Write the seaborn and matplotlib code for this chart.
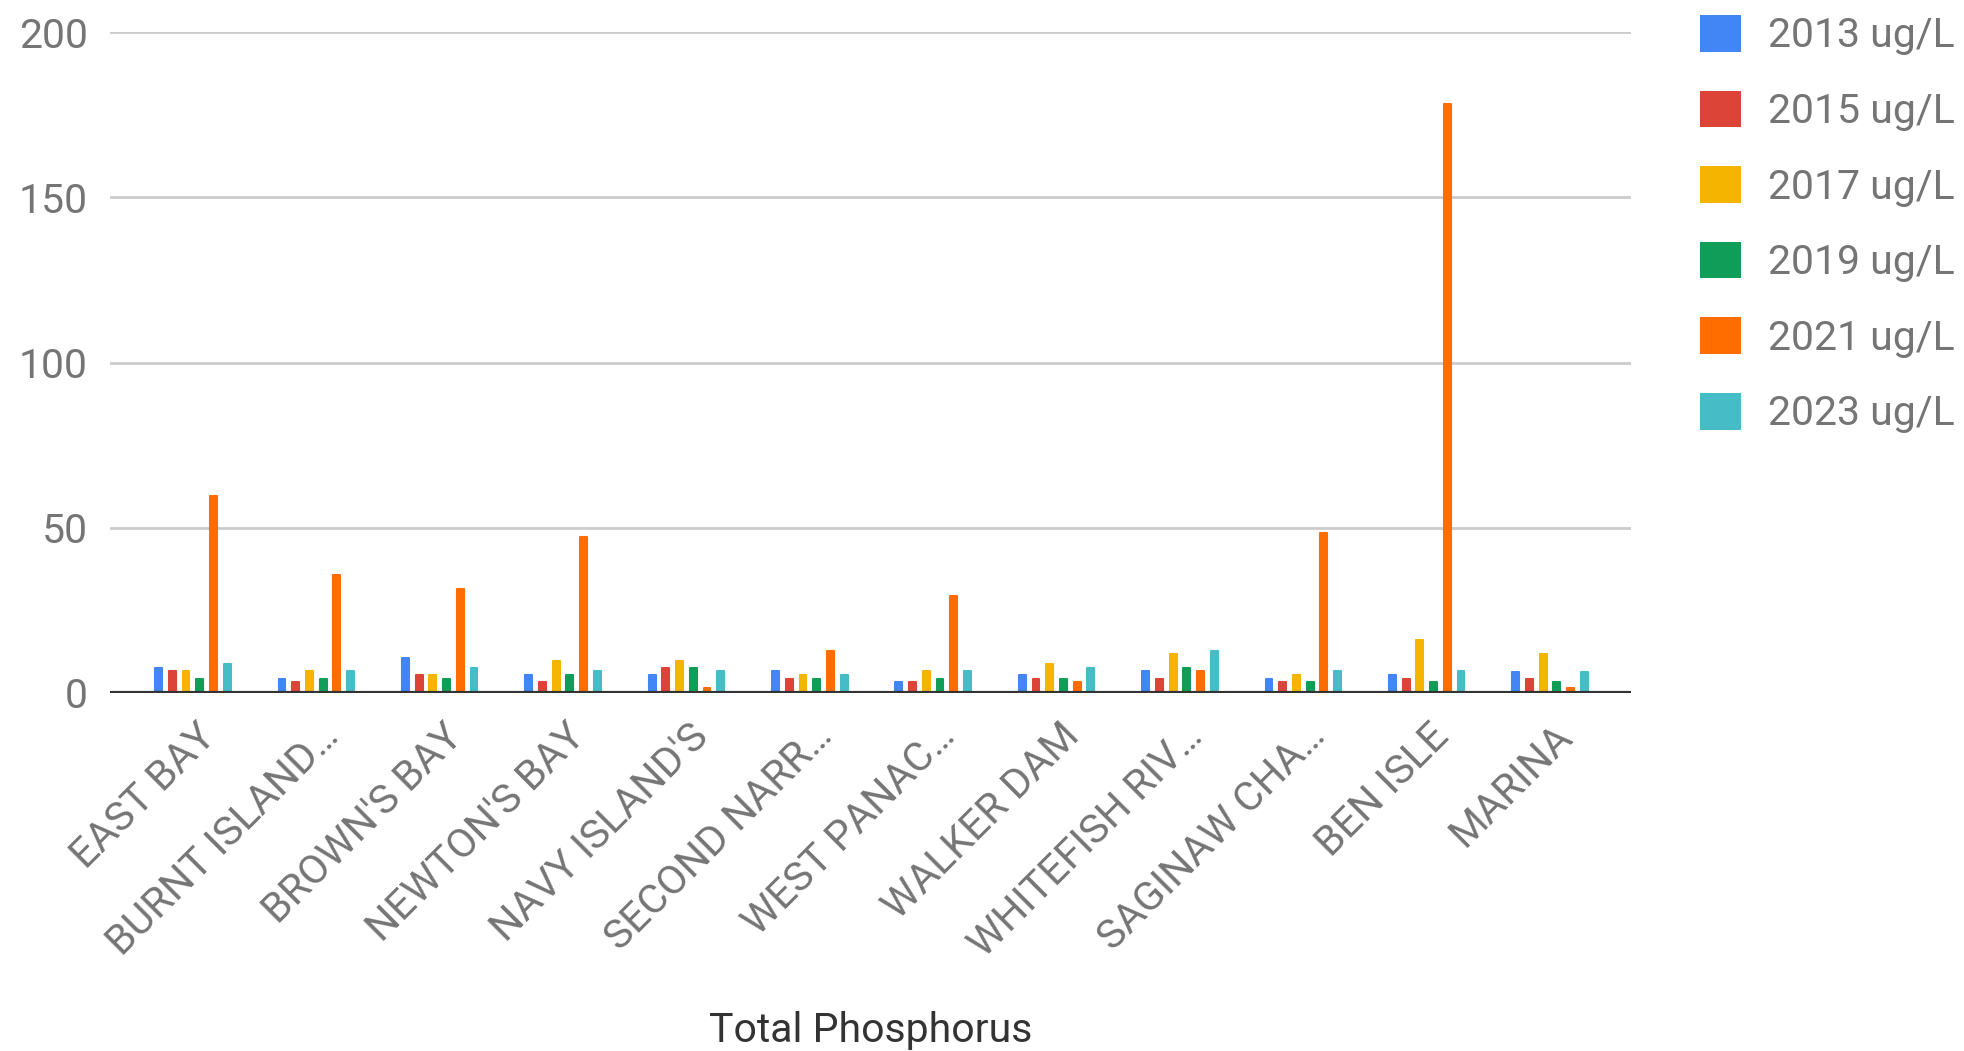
import matplotlib
matplotlib.use("Agg")
import matplotlib.pyplot as plt
from matplotlib.transforms import ScaledTranslation
import seaborn as sns
import pandas as pd

# Sampling sites (as abbreviated on the axis)
sites = ["EAST BAY", "BURNT ISLAND\u2026", "BROWN'S BAY", "NEWTON'S BAY",
         "NAVY ISLAND'S", "SECOND NARR\u2026", "WEST PANAC\u2026", "WALKER DAM",
         "WHITEFISH RIV\u2026", "SAGINAW CHA\u2026", "BEN ISLE", "MARINA"]

# Total phosphorus by sampling year (ug/L)
tp_2013 = [7.5, 4.3, 10.6, 5.4, 5.4, 6.6, 3.3, 5.4, 6.6, 4.3, 5.4, 6.4]
tp_2015 = [6.5, 3.3, 5.4, 3.3, 7.6, 4.3, 3.3, 4.3, 4.3, 3.3, 4.3, 4.3]
tp_2017 = [6.5, 6.6, 5.4, 9.6, 9.6, 5.4, 6.6, 8.6, 11.7, 5.4, 15.9, 11.7]
tp_2019 = [4.3, 4.3, 4.3, 5.4, 7.6, 4.3, 4.3, 4.3, 7.6, 3.3, 3.3, 3.3]
tp_2021 = [59.6, 35.7, 31.5, 47.1, 1.3, 12.7, 29.4, 3.3, 6.6, 48.3, 178.3, 1.3]
tp_2023 = [8.6, 6.6, 7.6, 6.6, 6.6, 5.4, 6.6, 7.6, 12.7, 6.6, 6.6, 6.4]

series_names = ["2013 ug/L", "2015 ug/L", "2017 ug/L",
                "2019 ug/L", "2021 ug/L", "2023 ug/L"]
series_values = [tp_2013, tp_2015, tp_2017, tp_2019, tp_2021, tp_2023]
series_colors = ["#4285F4", "#DB4437", "#F4B400", "#0F9D58", "#FF6D01", "#46BDC6"]

y_ticks = [0, 50, 100, 150, 200]

rows = []
for name, vals in zip(series_names, series_values):
    for site, v in zip(sites, vals):
        rows.append({"site": site, "series": name, "value": v})
df = pd.DataFrame(rows)

sns.set_theme(style="white")
plt.rcParams["font.family"] = ["Roboto", "DejaVu Sans"]

W, H, DPI = 1965, 1051, 100
fig = plt.figure(figsize=(W / DPI, H / DPI), dpi=DPI)
ax = fig.add_axes([110 / W, 1 - 692.7 / H, (1631 - 110) / W, (692.7 - 32.3) / H])

sns.barplot(data=df, x="site", y="value", hue="series", order=sites,
            hue_order=series_names, palette=series_colors, saturation=1,
            width=0.667, gap=0.5, errorbar=None, ax=ax, zorder=3)

# slightly rounded bar ends
for bar in ax.patches:
    fc = bar.get_facecolor()
    bar.set_edgecolor(fc)
    bar.set_linewidth(1.5)
    bar.set_joinstyle("round")

ax.set_ylim(0, 200)
ax.set_xlim(-0.672, 11.656)
ax.set_yticks(y_ticks)
ax.set_yticklabels([str(t) for t in y_ticks])

for s in ax.spines.values():
    s.set_visible(False)

ax.grid(False)
for t in y_ticks[1:]:
    ax.axhline(t, color="#CCCCCC", lw=2.0, zorder=1)
ax.axhline(0, color="#333333", lw=3.0, zorder=4)

tick_gray = "#757575"
ax.tick_params(axis="y", length=0, pad=16, labelsize=29.5, labelcolor=tick_gray)
ax.tick_params(axis="x", length=0, pad=27, labelsize=29.5, labelcolor=tick_gray)
for lab in ax.get_xticklabels():
    lab.set_rotation(45)
    lab.set_ha("right")
    lab.set_va("center")
    lab.set_rotation_mode("anchor")
    lab.set_transform(lab.get_transform() + ScaledTranslation(0.16, 0, fig.dpi_scale_trans))

ax.set_xlabel("")
ax.set_ylabel("")
fig.text(871 / W, 1 - 1031 / H, "Total Phosphorus", ha="center", va="center",
         fontsize=29.5, color="#333333")

# Legend on the right
handles, labels = ax.get_legend_handles_labels()
leg = ax.legend(handles, labels, loc="upper left",
                bbox_to_anchor=(1700 / W, 1 - 15 / H), bbox_transform=fig.transFigure,
                frameon=False, fontsize=29.5, handlelength=1.0, handleheight=1.0,
                handletextpad=0.65, labelspacing=0.86, borderpad=0, borderaxespad=0)
for txt in leg.get_texts():
    txt.set_color(tick_gray)
for h in leg.legend_handles:
    h.set_edgecolor("none")

fig.savefig("out.png", dpi=DPI, facecolor="white")
